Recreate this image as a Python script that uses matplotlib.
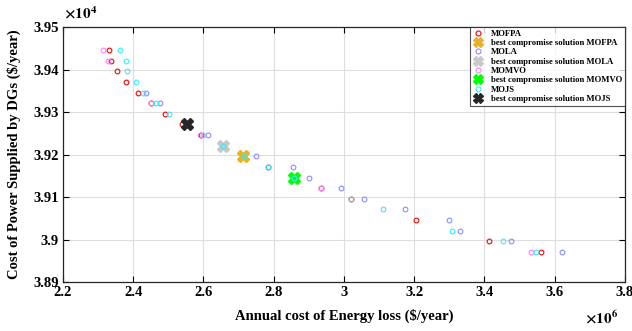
import matplotlib
matplotlib.use("Agg")
import matplotlib.pyplot as plt
from matplotlib.lines import Line2D

plt.rcParams['font.family'] = ['Liberation Serif', 'DejaVu Serif']
plt.rcParams['font.weight'] = 'bold'
plt.rcParams['mathtext.fontset'] = 'stix'

# energy loss cost (x 1e6 $/year) and DG power cost (x 1e4 $/year) per Pareto front
mofpa_x = [2.3311, 2.3376, 2.3547, 2.3795, 2.4128, 2.4499, 2.4915, 2.5399,
           2.5940, 2.7832, 2.9350, 3.0197, 3.2066, 3.4145, 3.5598]
mofpa_y = [3.9446, 3.9421, 3.9396, 3.9371, 3.9346, 3.9321, 3.9296, 3.9271,
           3.9246, 3.9171, 3.9121, 3.9096, 3.9046, 3.8996, 3.8971]

mola_x = [2.4373, 2.4764, 2.6123, 2.7507, 2.8544, 2.9017, 2.9929, 3.0584,
          3.1735, 3.2989, 3.3311, 3.4764, 3.6197]
mola_y = [3.9346, 3.9321, 3.9246, 3.9196, 3.9171, 3.9146, 3.9121, 3.9096,
          3.9071, 3.9046, 3.9021, 3.8996, 3.8971]

momvo_x = [2.3131, 2.3291, 2.4499, 2.5900, 2.9350, 3.5313]
momvo_y = [3.9446, 3.9421, 3.9321, 3.9246, 3.9121, 3.8971]

mojs_x = [2.3632, 2.3795, 2.3815, 2.4088, 2.4271, 2.4658, 2.5028, 2.5997,
          2.6550, 2.7165, 2.7840, 2.8573, 3.0197, 3.1108, 3.3074, 3.4544,
          3.5456]
mojs_y = [3.9446, 3.9421, 3.9396, 3.9371, 3.9346, 3.9321, 3.9296, 3.9246,
          3.9221, 3.9196, 3.9171, 3.9146, 3.9096, 3.9071, 3.9021, 3.8996,
          3.8971]

# best compromise solutions
best_mofpa = (2.7137, 3.9196)
best_mola = (2.6550, 3.9221)
best_momvo = (2.8573, 3.9146)
best_mojs = (2.5524, 3.9271)

x_ticks = [2.2, 2.4, 2.6, 2.8, 3.0, 3.2, 3.4, 3.6, 3.8]
x_labels = ['2.2', '2.4', '2.6', '2.8', '3', '3.2', '3.4', '3.6', '3.8']
y_ticks = [3.89, 3.90, 3.91, 3.92, 3.93, 3.94, 3.95]
y_labels = ['3.89', '3.9', '3.91', '3.92', '3.93', '3.94', '3.95']

fig = plt.figure(figsize=(6.32, 3.31), dpi=100)
ax = fig.add_axes([0.0997, 0.148, 0.889, 0.770])

ms = 3.4
mew = 0.8
ax.plot(mofpa_x, mofpa_y, 'o', ls='none', mfc='none', mec='#ff0000', ms=ms, mew=mew, label='MOFPA')
ax.plot(*best_mofpa, 'X', color='#edb120', ms=8.5, mec='#edb120', label='best compromise solution MOFPA')
ax.plot(mola_x, mola_y, 'o', ls='none', mfc='none', mec='#8c8cff', ms=ms, mew=mew, label='MOLA')
ax.plot(*best_mola, 'X', color='#c8c8c8', ms=8.5, mec='#c8c8c8', label='best compromise solution MOLA')
ax.plot(momvo_x, momvo_y, 'o', ls='none', mfc='none', mec='#ff80ff', ms=ms, mew=mew, label='MOMVO')
ax.plot(*best_momvo, 'X', color='#00ff00', ms=8.5, mec='#00ff00', label='best compromise solution MOMVO')
ax.plot(mojs_x, mojs_y, 'o', ls='none', mfc='none', mec='#33eeff', ms=ms, mew=mew, label='MOJS')
ax.plot(*best_mojs, 'X', color='#262626', ms=8.5, mec='#262626', label='best compromise solution MOJS')

ax.set_xlim(2.2, 3.8)
ax.set_ylim(3.89, 3.95)
ax.set_xticks(x_ticks)
ax.set_xticklabels(x_labels)
ax.set_yticks(y_ticks)
ax.set_yticklabels(y_labels)
ax.tick_params(direction='in', top=True, right=True, length=4, width=0.8,
               labelsize=10.5, pad=3)
for lab in ax.get_xticklabels() + ax.get_yticklabels():
    lab.set_fontweight('bold')
ax.grid(True, color='#dedede', lw=0.8)
ax.set_axisbelow(True)
for sp in ax.spines.values():
    sp.set_linewidth(0.9)
    sp.set_color('#262626')

ax.set_xlabel('Annual cost of Energy loss (\\$/year)', fontsize=10.5, fontweight='bold', labelpad=7)
ax.set_ylabel('Cost of Power Supplied by DGs (\\$/year)', fontsize=10.5, fontweight='bold', labelpad=9)

fig.text(0.102, 0.935, r'$\times 10^{4}$', fontsize=11, ha='left', va='bottom')
fig.text(0.952, 0.015, r'$\times 10^{6}$', fontsize=11, ha='center', va='bottom')

leg = ax.legend(loc='upper right', frameon=True, fancybox=False,
                edgecolor='#262626', borderpad=0.3, labelspacing=0.15,
                handlelength=1.2, handletextpad=0.9, borderaxespad=0.0,
                prop={'weight': 'bold', 'size': 6.2})
leg.get_frame().set_linewidth(0.8)
for h in leg.legend_handles:
    if isinstance(h, Line2D) and h.get_marker() == 'X':
        h.set_markersize(7)
    elif isinstance(h, Line2D):
        h.set_markersize(3.6)

fig.savefig('out.png', dpi=100)
